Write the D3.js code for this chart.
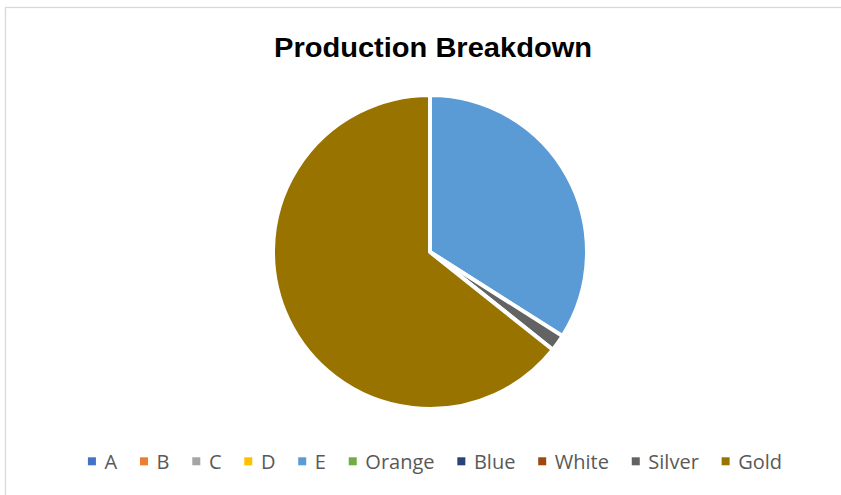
<!DOCTYPE html>
<html lang="en">
<head>
<meta charset="UTF-8">
<title>Production Breakdown</title>
<script src="https://cdn.jsdelivr.net/npm/d3@7"></script>
<style>
    body { margin: 0; padding: 0; background: #fff; overflow: hidden; }
</style>
</head>
<body>
<div id="chart"></div>
<script>
    // Data (share of production, %)
    const categories = ["A", "B", "C", "D", "E", "Orange", "Blue", "White", "Silver", "Gold"];
    const values = [0, 0, 0, 0, 34.0, 0, 0, 0, 1.7, 64.3];
    const colors = ["#4472c4", "#ed7d31", "#a5a5a5", "#ffc000", "#5b9bd5",
                    "#70ad47", "#264478", "#9e480e", "#636363", "#997300"];

    const width = 841, height = 495;
    const cx = 430, cy = 252, radius = 157;

    const svg = d3.select("#chart").append("svg")
        .attr("width", width)
        .attr("height", height)
        .style("font-family", "'Open Sans', sans-serif");

    // chart area border (right and bottom edges fall outside the window)
    svg.append("rect")
        .attr("x", 5.5).attr("y", 7.5)
        .attr("width", width + 20).attr("height", height + 20)
        .attr("fill", "#fff")
        .attr("stroke", "#d9d9d9")
        .attr("stroke-width", 1.3);

    svg.append("text")
        .attr("x", 274).attr("y", 57)
        .style("font-family", "'Liberation Sans', Arial, sans-serif")
        .style("font-weight", "bold")
        .style("font-size", "27px")
        .attr("textLength", 318)
        .attr("lengthAdjust", "spacingAndGlyphs")
        .attr("fill", "#000")
        .text("Production Breakdown");

    const color = d3.scaleOrdinal().domain(categories).range(colors);

    const pie = d3.pie().sort(null).value((d, i) => values[i]);
    const arc = d3.arc().innerRadius(0).outerRadius(radius);

    svg.append("g")
        .attr("transform", `translate(${cx},${cy})`)
        .selectAll("path")
        .data(pie(categories).filter(d => d.value > 0))
        .join("path")
        .attr("d", arc)
        .attr("fill", d => color(d.data))
        .attr("stroke", "#fff")
        .attr("stroke-width", 4)
        .attr("stroke-linejoin", "round");

    // legend, laid out from measured text widths and centred
    const legend = svg.append("g");
    const items = legend.selectAll("g")
        .data(categories)
        .join("g");

    items.append("rect")
        .attr("width", 8).attr("height", 8)
        .attr("y", -11.7)
        .attr("fill", d => color(d));

    items.append("text")
        .attr("x", 16.6)
        .attr("y", 0)
        .attr("fill", "#595959")
        .style("font-size", "20px")
        .text(d => d);

    const gap = 22.8;
    let x = 0;
    items.each(function () {
        const w = d3.select(this).select("text").node().getComputedTextLength();
        d3.select(this).attr("transform", `translate(${x},0)`);
        x += 16.6 + w + gap;
    });
    const total = x - gap;
    legend.attr("transform", `translate(${435 - total / 2},469)`);
</script>
</body>
</html>
